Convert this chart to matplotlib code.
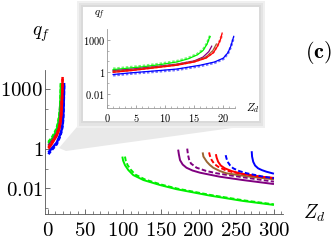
import numpy as np
import matplotlib
matplotlib.use("Agg")
import matplotlib.pyplot as plt
from matplotlib.patches import Polygon, Rectangle
from matplotlib.ticker import FixedLocator, FixedFormatter

plt.rcParams['mathtext.fontset'] = 'cm'
plt.rcParams['font.family'] = ['DejaVu Serif']

# ---------------- data (Z_d, log10 q_f) ----------------
colors = {"green": "#00f000", "purple": "#800080", "brown": "#996633",
          "red": "#ff0000", "blue": "#0000ff"}

# left branch (small Z_d), solid and dashed
left_green_z = [1, 3, 6, 9, 12, 14, 15.5, 16.5, 17.2, 17.7]
left_green_s = [0.25, 0.35, 0.5, 0.7, 0.95, 1.25, 1.6, 2.0, 2.6, 3.3]
left_green_d = [0.33, 0.43, 0.58, 0.78, 1.03, 1.33, 1.68, 2.08, 2.68, 3.35]
left_purple_z = [1, 4, 8, 12, 15, 16.5, 17.5, 18]
left_purple_s = [0.15, 0.28, 0.5, 0.75, 1.05, 1.4, 1.9, 2.4]
left_brown_z = [1, 4, 8, 12, 15, 17, 18.2, 18.8]
left_brown_s = [0.1, 0.2, 0.45, 0.7, 1.0, 1.4, 2.0, 2.6]
left_red_z = [1, 4, 8, 12, 15, 17, 18.3, 19, 19.5, 19.8]
left_red_s = [0.0, 0.15, 0.4, 0.65, 0.95, 1.3, 1.8, 2.4, 3.0, 3.6]
left_red_d = [0.05, 0.2, 0.45, 0.7, 1.0, 1.35, 1.85, 2.45, 3.0, 3.5]
left_blue_z = [1, 4, 8, 12, 16, 18.5, 20, 20.8, 21.3, 21.8]
left_blue_s = [-0.2, -0.05, 0.12, 0.3, 0.65, 0.95, 1.3, 1.8, 2.4, 3.3]
left_blue_d = [-0.28, -0.13, 0.04, 0.22, 0.57, 0.87, 1.22, 1.72, 2.32, 3.2]

# right branch (large Z_d)
green_s_z = [99, 100, 102.5, 107, 113.5, 127, 149, 171, 215, 259, 300]
green_s_q = [-0.4, -0.6, -0.83, -1.08, -1.33, -1.58, -1.83, -2.04, -2.36, -2.63, -2.83]
green_d_z = [102.5, 103.5, 106, 110, 116, 129, 150, 172, 216, 260, 300]
green_d_q = [-0.4, -0.6, -0.83, -1.05, -1.3, -1.55, -1.8, -2.01, -2.33, -2.6, -2.8]
purple_s_z = [173, 174, 175.5, 179, 184, 192, 202, 228, 259, 300]
purple_s_q = [-0.05, -0.3, -0.58, -0.8, -0.96, -1.1, -1.21, -1.41, -1.58, -1.78]
purple_d_z = [185, 186, 187.5, 190, 197.5, 210, 224, 259, 300]
purple_d_q = [0.0, -0.3, -0.55, -0.75, -0.96, -1.12, -1.24, -1.44, -1.66]
brown_s_z = [205.5, 206.5, 211, 215, 219.5, 228, 237, 268, 300]
brown_s_q = [-0.19, -0.4, -0.66, -0.82, -0.96, -1.12, -1.24, -1.41, -1.54]
red_d_z = [214, 215, 217.5, 221, 226, 235, 246, 273, 300]
red_d_q = [-0.19, -0.35, -0.58, -0.77, -0.91, -1.07, -1.19, -1.36, -1.49]
red_s_z = [223, 224, 226, 229.5, 235, 244, 255, 281, 300]
red_s_q = [-0.28, -0.45, -0.66, -0.85, -0.99, -1.13, -1.24, -1.41, -1.47]
blue_d_z = [236, 237, 238.5, 242, 246, 254, 264, 286, 300]
blue_d_q = [-0.33, -0.48, -0.66, -0.85, -0.99, -1.13, -1.24, -1.41, -1.49]
blue_s_z = [270.5, 271, 272.5, 275, 279, 284, 290, 300]
blue_s_q = [-0.13, -0.4, -0.66, -0.85, -0.99, -1.08, -1.16, -1.26]

main_xticks = [0, 50, 100, 150, 200, 250, 300]
inset_xticks = [0, 5, 10, 15, 20]
ytick_vals = [0.01, 1, 1000]
ytick_labels = ["0.01", "1", "1000"]

W, H = 335, 240
fig = plt.figure(figsize=(W / 100, H / 100), dpi=100)

def fx(x):
    return x / W

def fy(y):
    return 1 - y / H

# ---------------- decorations: inset panel and zoom wedge ----------------
wedge = Polygon([(fx(82), fy(121)), (fx(261), fy(124)), (fx(66), fy(151)), (fx(59), fy(148))],
                closed=True, transform=fig.transFigure, facecolor="#e9e9e9",
                edgecolor="none", zorder=-2)
fig.patches.append(wedge)
for (x0, y0, x1, y1, c) in [(77, 1, 265, 128, "#f0f0f0"), (79, 3, 263, 126, "#e4e4e4"),
                             (81, 5, 261, 123, "#dadada")]:
    fig.patches.append(Rectangle((fx(x0), fy(y1)), fx(x1) - fx(x0), fy(y0) - fy(y1),
                                 transform=fig.transFigure, facecolor=c,
                                 edgecolor="none", zorder=1))
fig.patches.append(Rectangle((fx(83), fy(121)), fx(259) - fx(83), fy(7) - fy(121),
                             transform=fig.transFigure, facecolor="white",
                             edgecolor="none", zorder=1.1))

axis_col = "#555555"

def style_axes(ax, fs, major_len, minor_len, pad_x, pad_y):
    for s in ["top", "right"]:
        ax.spines[s].set_visible(False)
    for s in ["left", "bottom"]:
        ax.spines[s].set_color(axis_col)
        ax.spines[s].set_linewidth(0.6)
    ax.set_yscale("log")
    ax.yaxis.set_major_locator(FixedLocator(ytick_vals))
    ax.yaxis.set_major_formatter(FixedFormatter(["$" + t + "$" for t in ytick_labels]))
    ax.yaxis.set_minor_locator(FixedLocator([10.0 ** k for k in range(-3, 4) if k not in (-2, 0, 3)]))
    ax.yaxis.set_minor_formatter(FixedFormatter([]))
    ax.tick_params(which="major", direction="in", length=major_len, width=0.6,
                   color=axis_col, labelsize=fs)
    ax.tick_params(which="minor", direction="in", length=minor_len, width=0.5, color=axis_col)
    ax.tick_params(axis="x", pad=pad_x)
    ax.tick_params(axis="y", pad=pad_y)
    ax.set_facecolor("none")

# ---------------- main axes ----------------
ax = fig.add_axes([fx(45.4), fy(214.3), fx(283) - fx(45.4), fy(70) - fy(214.3)], zorder=0)
ax.set_xlim(-3, 312)
ax.set_ylim(10 ** -3.3, 10 ** 3.95)
style_axes(ax, 15, 3.5, 2, 5, 1.5)
ax.xaxis.set_major_locator(FixedLocator(main_xticks))
ax.xaxis.set_major_formatter(FixedFormatter(["$%d$" % t for t in main_xticks]))
ax.xaxis.set_minor_locator(FixedLocator(list(range(10, 311, 10))))

lw = 1.4
dash = (2.4, 1.2)

def q(v):
    return 10.0 ** np.asarray(v)

right = [(green_s_z, green_s_q, "green", False), (green_d_z, green_d_q, "green", True),
         (purple_s_z, purple_s_q, "purple", False), (purple_d_z, purple_d_q, "purple", True),
         (brown_s_z, brown_s_q, "brown", False),
         (red_d_z, red_d_q, "red", True), (red_s_z, red_s_q, "red", False),
         (blue_d_z, blue_d_q, "blue", True), (blue_s_z, blue_s_q, "blue", False)]
for z, v, c, dashed in right:
    line, = ax.plot(z, q(v), color=colors[c], lw=lw, solid_capstyle="butt")
    if dashed:
        line.set_dashes(dash)

left = [(left_green_z, left_green_d, "green", True), (left_green_z, left_green_s, "green", False),
        (left_purple_z, left_purple_s, "purple", False), (left_brown_z, left_brown_s, "brown", False),
        (left_blue_z, left_blue_d, "blue", True), (left_blue_z, left_blue_s, "blue", False),
        (left_red_z, left_red_d, "red", True), (left_red_z, left_red_s, "red", False)]
for z, v, c, dashed in left:
    line, = ax.plot(z, q(v), color=colors[c], lw=lw + 0.4, solid_capstyle="butt")
    if dashed:
        line.set_dashes((1.5, 0.8))

fig.text(fx(41), fy(34), r"$q_f$", fontsize=14, ha="center", va="center")
fig.text(fx(314), fy(213), r"$Z_d$", fontsize=14, ha="center", va="center")
fig.text(fx(318), fy(53), r"$\mathbf{(c)}$", fontsize=16, ha="center", va="center")

# ---------------- inset axes ----------------
axi = fig.add_axes([fx(107.3), fy(107.7), fx(234.9) - fx(107.3), fy(29.3) - fy(107.7)], zorder=3)
axi.set_xlim(0, 22)
axi.set_ylim(10 ** -3.25, 10 ** 3.95)
style_axes(axi, 7.5, 2, 1.2, 3, 1.5)
axi.xaxis.set_major_locator(FixedLocator(inset_xticks))
axi.xaxis.set_major_formatter(FixedFormatter(["$%d$" % t for t in inset_xticks]))
axi.xaxis.set_minor_locator(FixedLocator(list(range(1, 23))))
for s in ["left", "bottom"]:
    axi.spines[s].set_color("#999999")
axi.tick_params(which="both", color="#999999")

for z, v, c, dashed in left:
    if dashed:
        line, = axi.plot(z, q(v), color=colors[c], lw=1.8, alpha=0.55)
        line.set_dashes((1.0, 0.7))
    else:
        axi.plot(z, q(v), color=colors[c], lw=0.9)

fig.text(fx(100), fy(15), r"$q_f$", fontsize=8, ha="center", va="center", zorder=4)
fig.text(fx(253), fy(108), r"$Z_d$", fontsize=8, ha="center", va="center", zorder=4)

fig.savefig("out.png", dpi=100)
